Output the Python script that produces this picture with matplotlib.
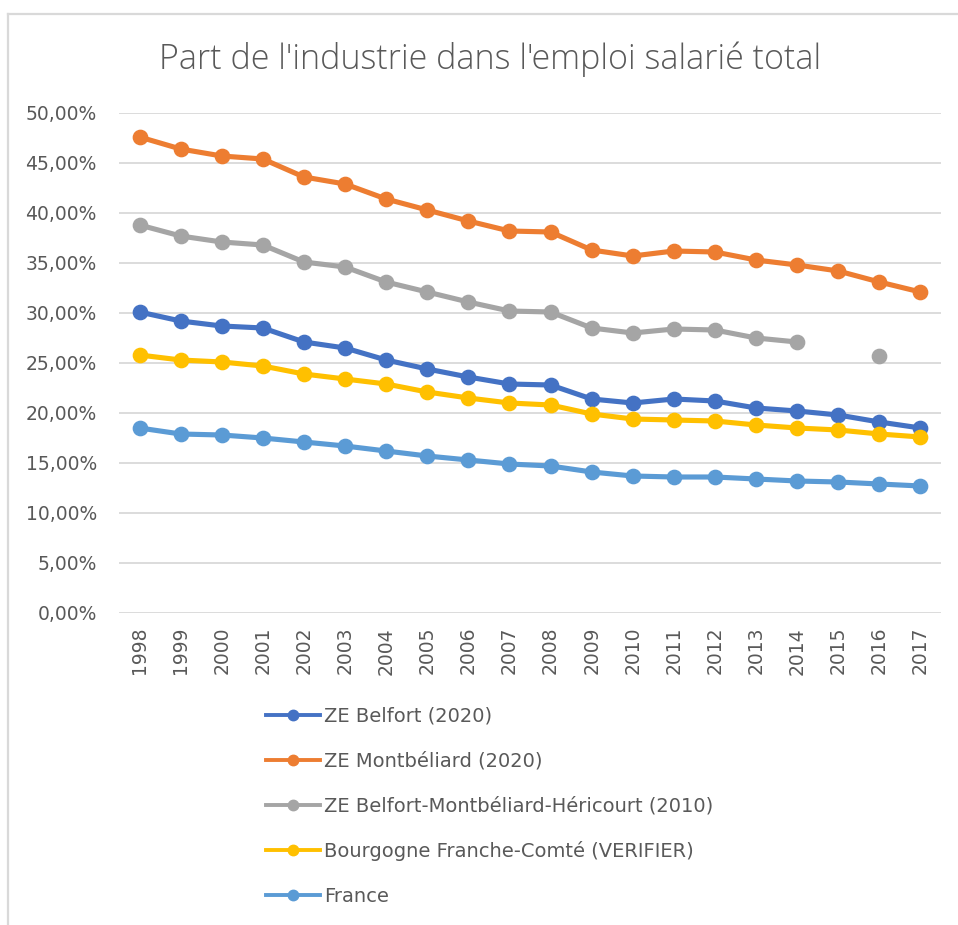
import numpy as np
import matplotlib
matplotlib.use("Agg")
import matplotlib.pyplot as plt
from matplotlib.lines import Line2D
from matplotlib.ticker import FuncFormatter, MultipleLocator

years = list(range(1998, 2018))

belfort = [30.1, 29.2, 28.7, 28.5, 27.1, 26.5, 25.3, 24.4, 23.6, 22.9,
           22.8, 21.4, 21.0, 21.4, 21.2, 20.5, 20.2, 19.8, 19.1, 18.5]
montbeliard = [47.6, 46.4, 45.7, 45.4, 43.6, 42.9, 41.4, 40.3, 39.2, 38.2,
               38.1, 36.3, 35.7, 36.2, 36.1, 35.3, 34.8, 34.2, 33.1, 32.1]
bmh_2010 = [38.8, 37.7, 37.1, 36.8, 35.1, 34.6, 33.1, 32.1, 31.1, 30.2,
            30.1, 28.5, 28.0, 28.4, 28.3, 27.5, 27.1, np.nan, 25.7, np.nan]
bfc = [25.8, 25.3, 25.1, 24.7, 23.9, 23.4, 22.9, 22.1, 21.5, 21.0,
       20.8, 19.9, 19.4, 19.3, 19.2, 18.8, 18.5, 18.3, 17.9, 17.6]
france = [18.5, 17.9, 17.8, 17.5, 17.1, 16.7, 16.2, 15.7, 15.3, 14.9,
          14.7, 14.1, 13.7, 13.6, 13.6, 13.4, 13.2, 13.1, 12.9, 12.7]

series_names = ["ZE Belfort (2020)", "ZE Montbéliard (2020)",
                "ZE Belfort-Montbéliard-Héricourt (2010)",
                "Bourgogne Franche-Comté (VERIFIER)", "France"]
series_values = [belfort, montbeliard, bmh_2010, bfc, france]
colors = ["#4472C4", "#ED7D31", "#A5A5A5", "#FFC000", "#5B9BD5"]

txt = "#595959"
grid_c = "#D9D9D9"

fig = plt.figure(figsize=(9.58, 9.25), dpi=100)
W, H = 958, 925
ax = fig.add_axes([119 / W, 1 - 613 / H, 822 / W, 500 / H])

x = np.arange(len(years))
for vals, c in zip(series_values, colors):
    ax.plot(x, vals, color=c, lw=3.7, marker="o", ms=10.3,
            solid_capstyle="round", solid_joinstyle="round")

ax.set_xlim(-0.5, len(years) - 0.5)
ax.set_ylim(0, 50)
ax.yaxis.set_major_locator(MultipleLocator(5))
ax.yaxis.set_major_formatter(FuncFormatter(lambda v, p: f"{v:.2f}%".replace(".", ",")))
ax.set_xticks(x)
ax.set_xticklabels([str(y) for y in years], rotation=90)
ax.grid(axis="y", color=grid_c, lw=1.3)
ax.set_axisbelow(True)
for s in ax.spines.values():
    s.set_visible(False)
ax.tick_params(axis="y", length=0, pad=16, labelsize=13.5, labelcolor=txt)
ax.tick_params(axis="x", length=0, pad=10, labelsize=13.5, labelcolor=txt)

fig.text(490 / W, 1 - 59 / H, "Part de l'industrie dans l'emploi salarié total",
         ha="center", va="center", fontsize=24.5, color=txt,
         family="Open Sans", fontweight="light")

handles = [Line2D([], [], color=c, lw=2.8, marker="o", ms=7.5) for c in colors]
fig.legend(handles, series_names, loc="upper left",
           bbox_to_anchor=(266 / W, 1 - 707 / H), frameon=False,
           fontsize=14, labelcolor=txt, handlelength=2.8, handletextpad=0.2,
           labelspacing=1.32, borderpad=0, borderaxespad=0)

# outer chart-area border (top and left edges)
fig.add_artist(Line2D([8 / W, 1.0], [1 - 14 / H, 1 - 14 / H], color=grid_c, lw=1.6))
fig.add_artist(Line2D([8 / W, 8 / W], [1 - 14 / H, 1 - 924 / H], color=grid_c, lw=1.6))

fig.savefig("out.png", dpi=100, facecolor="white")
